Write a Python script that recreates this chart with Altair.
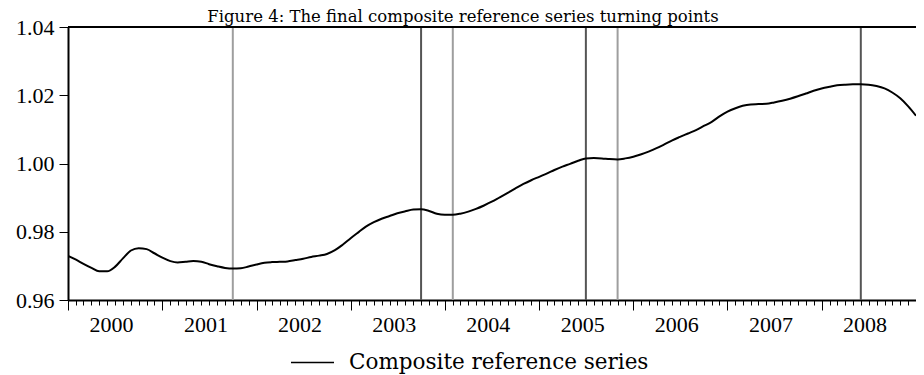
import altair as alt
import pandas as pd

# ---- data ----
series_name = "Composite reference series"
title_text = "Figure 4: The final composite reference series turning points"

# monthly values, Jan 2000 .. Jan 2009
values = [
    0.9729, 0.9718, 0.9706, 0.9694, 0.9684, 0.9684, 0.9697, 0.9722, 0.9745, 0.9752, 0.9749, 0.9737,  # 2000
    0.9724, 0.9714, 0.9710, 0.9712, 0.9714, 0.9712, 0.9705, 0.9699, 0.9694, 0.9692, 0.9693, 0.9698,  # 2001
    0.9704, 0.9709, 0.9711, 0.9712, 0.9713, 0.9717, 0.9721, 0.9726, 0.9730, 0.9735, 0.9746, 0.9762,  # 2002
    0.9781, 0.9799, 0.9815, 0.9828, 0.9838, 0.9846, 0.9854, 0.9860, 0.9865, 0.9866, 0.9861, 0.9853,  # 2003
    0.9850, 0.9850, 0.9853, 0.9859, 0.9867, 0.9877, 0.9888, 0.9901, 0.9914, 0.9927, 0.9940, 0.9951,  # 2004
    0.9961, 0.9971, 0.9981, 0.9991, 0.9999, 1.0008, 1.0015, 1.0016, 1.0015, 1.0013, 1.0012, 1.0015,  # 2005
    1.0020, 1.0027, 1.0035, 1.0045, 1.0056, 1.0068, 1.0078, 1.0088, 1.0098, 1.0110, 1.0122, 1.0138,  # 2006
    1.0152, 1.0162, 1.0169, 1.0173, 1.0174, 1.0175, 1.0179, 1.0184, 1.0190, 1.0197, 1.0205, 1.0213,  # 2007
    1.0220, 1.0225, 1.0229, 1.0231, 1.0232, 1.0232, 1.0231, 1.0227, 1.0220, 1.0208, 1.0191, 1.0168,  # 2008
    1.0140,                                                                                          # 2009-01
]
dates = pd.date_range("2000-01-01", periods=len(values), freq="MS").strftime("%Y-%m-%d").tolist()

peak_dates = ["2003-10-01", "2005-07-01", "2008-06-01"]
trough_dates = ["2001-10-01", "2004-02-01", "2005-11-01"]
year_ticks = list(range(2000, 2009))
y_ticks = [0.96, 0.98, 1.00, 1.02, 1.04]

# ---- tables ----
df = pd.DataFrame({"date": dates, "value": values, "series": series_name})
peaks = pd.DataFrame({"date": peak_dates})
troughs = pd.DataFrame({"date": trough_dates})
title_df = pd.DataFrame({"t": [title_text]})

W, H = 848, 273
TICK_FONT = "Liberation Serif"
TEXT_FONT = "DejaVu Serif"

xscale = alt.Scale(
    type="utc",
    domain=[alt.DateTime(year=2000, month=1, date=1, utc=True),
            alt.DateTime(year=2009, month=1, date=1, utc=True)],
)
yscale = alt.Scale(domain=[0.96, 1.04], nice=False, zero=False)

major_axis = alt.Axis(
    orient="bottom",
    values=[alt.DateTime(year=y, month=1, date=1, utc=True) for y in year_ticks],
    labelExpr="utcFormat(datum.value, '%Y')",
    tickSize=10, tickWidth=1, tickColor="black",
    domain=True, domainWidth=2, domainColor="black",
    labelOffset=43, labelAlign="center", labelFlush=False, labelOverlap=False,
    labelFont=TICK_FONT, labelFontSize=22, labelColor="black", labelPadding=4,
    grid=False, title=None,
)
minor_axis = alt.Axis(
    orient="bottom",
    values=[alt.DateTime(year=2000 + i // 12, month=i % 12 + 1, date=1, utc=True) for i in range(109)],
    tickSize=5, tickWidth=1, tickColor="black",
    labels=False, domain=False, grid=False, title=None,
)
y_axis = alt.Axis(
    values=y_ticks, format=".2f",
    tickSize=9, tickWidth=1, tickColor="black",
    domain=True, domainWidth=2, domainColor="black",
    labelFont=TICK_FONT, labelFontSize=22, labelColor="black", labelPadding=5,
    grid=False, title=None,
)

trough_rules = alt.Chart(troughs).mark_rule(color="#9e9e9e", strokeWidth=2).encode(
    x=alt.X("date:T", scale=xscale, axis=minor_axis)
)
peak_rules = alt.Chart(peaks).mark_rule(color="#555555", strokeWidth=2).encode(
    x=alt.X("date:T", scale=xscale, axis=None)
)
line = alt.Chart(df).mark_line(strokeWidth=2, interpolate="monotone", clip=True).encode(
    x=alt.X("date:T", scale=xscale, axis=major_axis),
    y=alt.Y("value:Q", scale=yscale, axis=y_axis),
    color=alt.Color(
        "series:N",
        scale=alt.Scale(range=["black"]),
        legend=alt.Legend(
            orient="none", legendX=222, legendY=313, title=None,
            symbolType="stroke", symbolSize=1849, symbolStrokeWidth=1.5,
            labelFont=TEXT_FONT, labelFontSize=21.5, labelColor="black", labelOffset=14,
            labelLimit=600,
        ),
    ),
)
top_frame = alt.Chart(title_df).mark_rule(color="black", strokeWidth=2).encode(
    y=alt.datum(1.04), x=alt.value(0), x2=alt.value(W)
)
title = alt.Chart(title_df).mark_text(
    font=TEXT_FONT, fontSize=16.5, align="center", baseline="alphabetic", color="black"
).encode(x=alt.value(395), y=alt.value(-5), text="t:N")

chart = (
    alt.layer(trough_rules, peak_rules, line, top_frame, title)
    .resolve_axis(x="independent")
    .properties(
        width=W, height=H,
        autosize=alt.AutoSizeParams(type="none"),
        padding={"left": 60, "top": 19, "right": 0, "bottom": 75},
    )
    .configure_view(stroke=None)
)

chart.save("out.html", embed_options={"renderer": "svg", "actions": False})
